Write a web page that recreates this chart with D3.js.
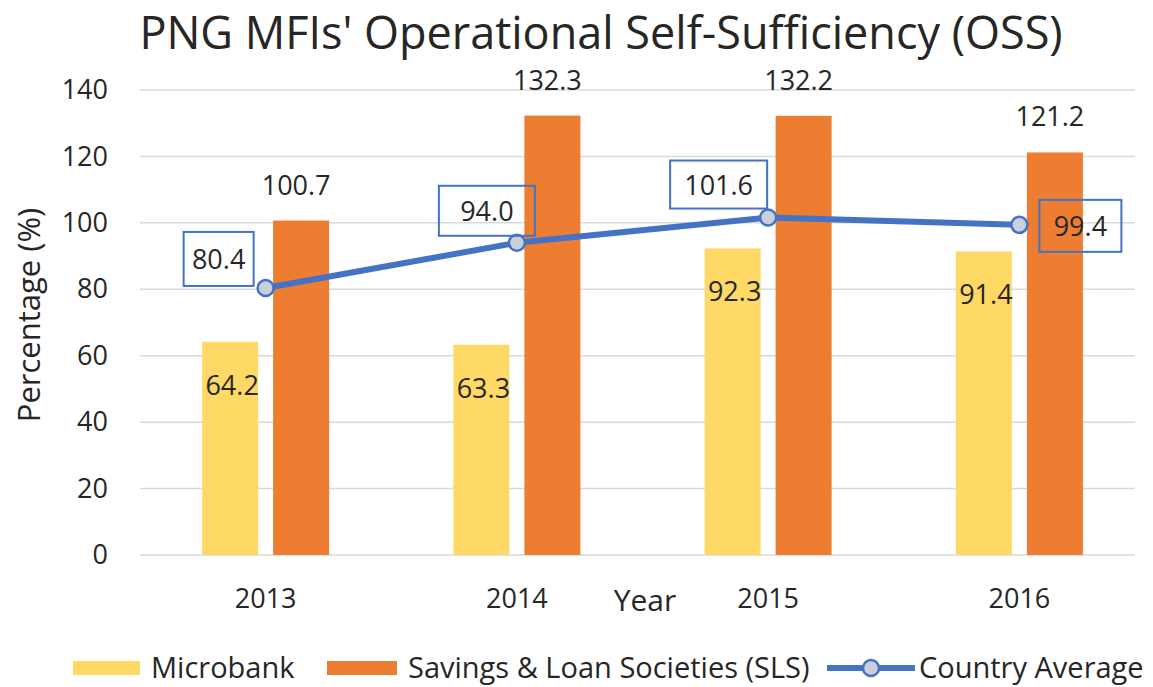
<!DOCTYPE html>
<html>
<head>
<meta charset="utf-8">
<script src="https://cdn.jsdelivr.net/npm/d3@7"></script>
<style>
  body { margin: 0; background: #fff; }
  text { font-family: "Open Sans", "Noto Sans", sans-serif; fill: #262626; }
</style>
</head>
<body>
<div id="chart"></div>
<script>
var years = ["2013", "2014", "2015", "2016"];
var microbank = [64.2, 63.3, 92.3, 91.4];
var sls = [100.7, 132.3, 132.2, 121.2];
var countryAvg = [80.4, 94.0, 101.6, 99.4];
var yTicks = [0, 20, 40, 60, 80, 100, 120, 140];

var width = 1153, height = 687;
var margin = { top: 90, right: 8, bottom: 132, left: 140 };
var innerW = width - margin.left - margin.right;
var innerH = height - margin.top - margin.bottom;

var svg = d3.select("#chart").append("svg")
  .attr("width", width)
  .attr("height", height);

var g = svg.append("g")
  .attr("transform", "translate(" + margin.left + "," + margin.top + ")");

var x = d3.scaleBand().domain(years).range([0, innerW]);
var y = d3.scaleLinear().domain([0, 140]).range([innerH, 0]);

var barW = 56, gap = 15;

// gridlines
g.selectAll(".grid")
  .data(yTicks)
  .enter().append("line")
  .attr("x1", 0)
  .attr("x2", innerW - 10)
  .attr("y1", function(d) { return y(d); })
  .attr("y2", function(d) { return y(d); })
  .attr("stroke", "#d9d9d9")
  .attr("stroke-width", 1.5);

// y axis labels
var yAxis = d3.axisLeft(y).tickValues(yTicks).tickSize(0).tickPadding(32);
g.append("g").call(yAxis)
  .call(function(s) { s.select(".domain").remove(); })
  .selectAll("text")
  .style("font-size", "27px")
  .attr("fill", "#262626");

// x axis labels
var xAxis = d3.axisBottom(x).tickSize(0).tickPadding(34);
g.append("g")
  .attr("transform", "translate(0," + innerH + ")")
  .call(xAxis)
  .call(function(s) { s.select(".domain").remove(); })
  .selectAll("text")
  .style("font-size", "27px")
  .attr("fill", "#262626");

// bars
g.selectAll(".mb")
  .data(microbank)
  .enter().append("rect")
  .attr("x", function(d, i) { return x(years[i]) + x.bandwidth() / 2 - gap / 2 - barW; })
  .attr("y", function(d) { return y(d); })
  .attr("width", barW)
  .attr("height", function(d) { return innerH - y(d); })
  .attr("fill", "#FFD966");

g.selectAll(".sls")
  .data(sls)
  .enter().append("rect")
  .attr("x", function(d, i) { return x(years[i]) + x.bandwidth() / 2 + gap / 2; })
  .attr("y", function(d) { return y(d); })
  .attr("width", barW)
  .attr("height", function(d) { return innerH - y(d); })
  .attr("fill", "#ED7D31");

// bar labels
g.selectAll(".mbl")
  .data(microbank)
  .enter().append("text")
  .attr("x", function(d, i) { return x(years[i]) + x.bandwidth() / 2 - gap / 2 - barW / 2 + 2; })
  .attr("y", function(d) { return y(d) + 53; })
  .attr("text-anchor", "middle")
  .style("font-size", "27px")
  .text(function(d) { return d.toFixed(1); });

g.selectAll(".slsl")
  .data(sls)
  .enter().append("text")
  .attr("x", function(d, i) { return x(years[i]) + x.bandwidth() / 2 + gap / 2 + barW / 2 - 5; })
  .attr("y", function(d) { return y(d) - 26; })
  .attr("text-anchor", "middle")
  .style("font-size", "27px")
  .text(function(d) { return d.toFixed(1); });

// country average line
var cx = function(i) { return x(years[i]) + x.bandwidth() / 2; };
var line = d3.line()
  .x(function(d, i) { return cx(i); })
  .y(function(d) { return y(d); });

g.append("path")
  .datum(countryAvg)
  .attr("d", line)
  .attr("fill", "none")
  .attr("stroke", "#4472C4")
  .attr("stroke-width", 6);

g.selectAll(".pt")
  .data(countryAvg)
  .enter().append("circle")
  .attr("cx", function(d, i) { return cx(i); })
  .attr("cy", function(d) { return y(d); })
  .attr("r", 8)
  .attr("fill", "#c9d0dc")
  .attr("stroke", "#4472C4")
  .attr("stroke-width", 2.5);

// boxed labels: offsets relative to point
var boxOff = [
  { dx: -82, dy: -56, w: 70, h: 54 },
  { dx: -78, dy: -57, w: 96, h: 50 },
  { dx: -98, dy: -57, w: 97, h: 48 },
  { dx: 20, dy: -25, w: 82, h: 52 }
];
var boxes = g.selectAll(".box")
  .data(countryAvg)
  .enter().append("g")
  .attr("transform", function(d, i) {
    return "translate(" + (cx(i) + boxOff[i].dx) + "," + (y(d) + boxOff[i].dy) + ")";
  });
boxes.append("rect")
  .attr("width", function(d, i) { return boxOff[i].w; })
  .attr("height", function(d, i) { return boxOff[i].h; })
  .attr("fill", "none")
  .attr("stroke", "#4472C4")
  .attr("stroke-width", 2);
boxes.append("text")
  .attr("x", function(d, i) { return boxOff[i].w / 2; })
  .attr("y", function(d, i) { return boxOff[i].h / 2 + 10; })
  .attr("text-anchor", "middle")
  .style("font-size", "27px")
  .text(function(d) { return d.toFixed(1); });

// title
svg.append("text")
  .attr("x", 601)
  .attr("y", 49)
  .attr("text-anchor", "middle")
  .style("font-size", "45px")
  .text("PNG MFIs' Operational Self-Sufficiency (OSS)");

// axis titles
svg.append("text")
  .attr("transform", "translate(40,315) rotate(-90)")
  .attr("text-anchor", "middle")
  .style("font-size", "31px")
  .text("Percentage (%)");

svg.append("text")
  .attr("x", 645)
  .attr("y", 611)
  .attr("text-anchor", "middle")
  .style("font-size", "30px")
  .text("Year");

// legend
var leg = svg.append("g").attr("transform", "translate(0,668)");
leg.append("rect").attr("x", 73).attr("y", -7).attr("width", 67).attr("height", 14).attr("fill", "#FFD966");
leg.append("text").attr("x", 151).attr("y", 10).style("font-size", "29px").text("Microbank");
leg.append("rect").attr("x", 327).attr("y", -7).attr("width", 70).attr("height", 14).attr("fill", "#ED7D31");
leg.append("text").attr("x", 408).attr("y", 10).style("font-size", "29px").text("Savings & Loan Societies (SLS)");
leg.append("line").attr("x1", 827).attr("x2", 915).attr("y1", 0).attr("y2", 0).attr("stroke", "#4472C4").attr("stroke-width", 6);
leg.append("circle").attr("cx", 871).attr("cy", 0).attr("r", 8).attr("fill", "#c9d0dc").attr("stroke", "#4472C4").attr("stroke-width", 2.5);
leg.append("text").attr("x", 919).attr("y", 10).style("font-size", "29px").text("Country Average");
</script>
</body>
</html>
